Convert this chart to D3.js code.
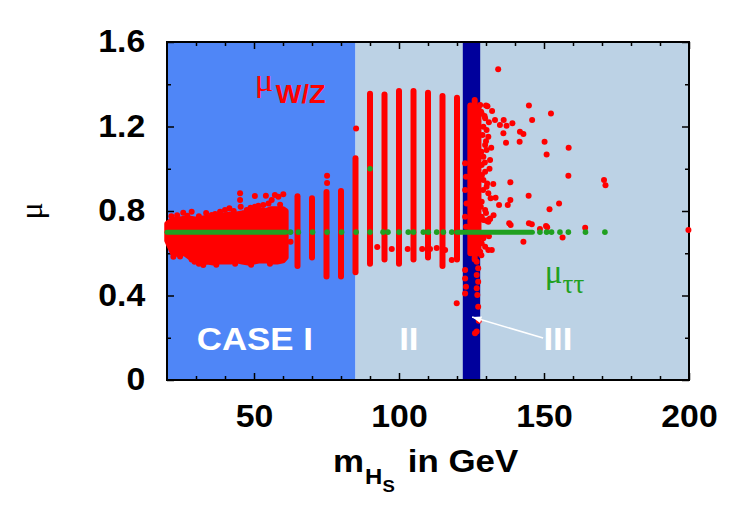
<!DOCTYPE html>
<html>
<head>
<meta charset="utf-8">
<script src="https://cdn.jsdelivr.net/npm/d3@7"></script>
<style>
  body { margin: 0; background: #fff; }
  svg { display: block; font-family: "Liberation Sans", Arial, sans-serif; }
  .axis path { display: none; }
  .axis line { stroke: #000; stroke-width: 1.5; }
  .axis text { font-size: 31px; font-weight: bold; fill: #000; }
</style>
</head>
<body>
<svg id="chart"></svg>
<script>
// Signal strengths vs singlet mass, three cases

// regions (GeV)
const caseEdges = [20, 85, 200];
const higgsBand = [122, 128];

// axes
const xTicks = [50, 100, 150, 200];
const xTickLabels = ["50", "100", "150", "200"];
const xMinor = [30, 40, 60, 70, 80, 90, 110, 120, 130, 140, 160, 170, 180, 190];
const yTicks = [0, 0.4, 0.8, 1.2, 1.6];
const yTickLabels = ["0", "0.4", "0.8", "1.2", "1.6"];
const yMinor = [0.2, 0.6, 1.0, 1.4];

// mu_W/Z dense region of case I (envelope of the scan points)
const blobMass = [20, 22, 24, 26, 28, 30, 32, 34, 36, 38, 40, 42, 44, 46, 48, 50, 52, 54, 56, 58, 60, 61];
const blobLo   = [0.66, 0.60, 0.595, 0.60, 0.58, 0.565, 0.555, 0.56, 0.555, 0.56, 0.56, 0.56, 0.565, 0.56, 0.555, 0.56, 0.565, 0.565, 0.56, 0.56, 0.565, 0.58];
const blobHi   = [0.74, 0.76, 0.76, 0.765, 0.765, 0.76, 0.765, 0.77, 0.775, 0.78, 0.78, 0.785, 0.785, 0.79, 0.79, 0.80, 0.805, 0.80, 0.81, 0.81, 0.81, 0.80];

// mu_W/Z scan columns (one per mass step)
const colMass = [65, 70, 75, 80, 85, 90, 95, 100, 105, 110, 115, 120];
const colLo   = [0.54, 0.58, 0.49, 0.49, 0.51, 0.55, 0.57, 0.55, 0.57, 0.58, 0.54, 0.57];
const colHi   = [0.87, 0.86, 0.89, 0.895, 1.05, 1.355, 1.352, 1.368, 1.368, 1.36, 1.344, 1.336];

// mu_W/Z cluster at the 125 GeV band
const peakMass = [124.6, 126.1, 127.4];
const peakLo   = [0.60, 0.57, 0.60];
const peakHi   = [1.30, 1.325, 1.29];

// mu_W/Z isolated points
const redMass = [25.6, 28.5, 35.4, 36.6, 38.3, 40, 41.5, 45.2, 45.2, 45.4, 47.5, 50.3, 50.3, 52, 53.2, 54.1, 55, 56.1, 57.2, 58.4, 60.1,
  21.5, 23.5, 27, 31, 33.5, 43, 48.8, 51.5, 59,
  22.2, 28.5, 29.5, 31, 32.5, 24.5, 37, 43.5, 49, 55.5, 62.6, 75.2, 75.2, 85.2,
  92.5, 97.5, 103, 108, 110.7, 113, 115.9, 118.2,
  128.0, 128.5, 129.7, 129.1, 130.2, 130.8, 129.7, 130.2, 129.1, 128.5, 129.7, 129.1, 130.2, 130.8, 128.5, 129.7, 128.5, 130.8,
  128.3, 129.5, 131, 128.8, 130, 131.8, 128.4, 129.6, 131.2, 128.6, 130.4, 129, 131.6, 128.2, 130, 132.6, 129.4, 131, 128.4,
  122.8, 123.1, 122.8, 123.3, 122.8, 123.1,
  128, 129.1, 130.8, 131.4, 128.5, 129.7, 130.8, 132, 128, 128, 129.1,
  126.8, 127.3, 126.8, 127.3, 126.8, 127.0, 127.3, 122.8, 122.8, 123.1, 122.8,
  119.9, 126.2, 126.8, 127.5,
  134.2, 144.8, 152.4, 145.9, 141.7, 142.9, 141.6, 150.2, 150.9, 158.5, 158.4, 170.7, 171.2,
  136.1, 139.1, 134.8, 137.1, 136, 136.9, 133.1, 132.1, 130, 130.5, 131.4, 132.5, 138.4, 133.3, 134.5, 137.5, 138.4, 144.7, 155.2, 151.9,
  138, 138.5, 144.8, 145.8, 150.7, 151.1, 148.6, 164.2, 131.4, 130.2, 142.9, 156.4, 199.8];
const redMu = [0.792, 0.797, 0.781, 0.786, 0.797, 0.805, 0.813, 0.884, 0.852, 0.82, 0.805, 0.871, 0.82, 0.80, 0.828, 0.872, 0.836, 0.852, 0.876, 0.868, 0.879,
  0.775, 0.78, 0.778, 0.775, 0.79, 0.80, 0.815, 0.825, 0.83,
  0.584, 0.57, 0.56, 0.55, 0.544, 0.585, 0.545, 0.55, 0.545, 0.55, 0.655, 0.967, 0.932, 1.19,
  0.63, 0.62, 0.62, 0.62, 0.62, 0.625, 0.615, 0.568,
  1.302, 1.262, 1.239, 1.199, 1.183, 1.152, 1.112, 1.089, 1.057, 1.018, 0.986, 0.947, 0.915, 0.884, 0.844, 0.805, 0.773, 0.749,
  1.27, 1.25, 1.22, 1.16, 1.13, 1.10, 1.08, 1.03, 1.0, 0.97, 0.93, 0.90, 0.86, 0.82, 0.79, 0.78, 0.69, 0.68, 0.59,
  1.026, 0.962, 0.899, 0.836, 0.773, 0.726,
  0.765, 0.757, 0.757, 0.765, 0.647, 0.631, 0.615, 0.615, 0.607, 0.678, 0.671,
  0.56, 0.529, 0.497, 0.465, 0.434, 0.402, 0.347, 0.521, 0.481, 0.442, 0.41,
  0.363, 0.221, 0.229, 0.28,
  1.471, 1.300, 1.262, 1.231, 1.175, 1.164, 1.128, 1.128, 1.068, 1.10, 0.967, 0.947, 0.922,
  1.231, 1.215, 1.207, 1.204, 1.168, 1.123, 1.231, 1.273, 1.30, 1.296, 1.041, 0.928, 0.936, 0.863, 0.828, 0.828, 0.852, 0.872, 0.836, 0.808,
  0.742, 0.734, 0.742, 0.737, 0.729, 0.723, 0.715, 0.721, 0.762, 0.754, 0.655, 0.674, 0.71];

// mu_tautau: dense runs and single points
const greenRunStart = [20, 120];
const greenRunEnd   = [61, 146];
const greenRunMu    = [0.70, 0.70];
const greenMass = [62.6, 65.3, 70.2, 75.2, 80.2, 85.2, 90, 90, 94.5, 96.2, 100, 103.2, 105, 108.4, 110.1, 113, 115.3, 118.2,
  148.6, 150.9, 152.6, 155.5, 158.4, 164.3, 171];
const greenMu = [0.70, 0.70, 0.70, 0.70, 0.70, 0.70, 0.70, 1.0, 0.70, 0.70, 0.70, 0.70, 0.70, 0.70, 0.70, 0.70, 0.70, 0.70,
  0.70, 0.70, 0.70, 0.70, 0.70, 0.70, 0.70];

// annotations (data units)
const caseLabels = ["CASE I", "II", "III"];
const caseLabelMass = [50.3, 103.4, 154.8];
const caseLabelMu = 0.142;
const arrowFrom = [149.7, 0.199];
const arrowTo = [125.2, 0.298];
const wzLabelPos = [50.3, 1.368];
const ttLabelPos = [150.3, 0.459];

(function () {
  const W = 750, H = 525;
  const M = { top: 42, right: 61, bottom: 145, left: 167 };
  const innerW = W - M.left - M.right;
  const innerH = H - M.top - M.bottom;
  const SX = 1.09; // the original lettering is slightly wide

  const CASE1 = "#4f86f7";
  const LIGHT = "#bcd2e5";
  const NAVY = "#00009c";
  const RED = "#ff0000";
  const GREEN = "#20a020";

  const svg = d3.select("#chart").attr("width", W).attr("height", H);
  const g = svg.append("g").attr("transform", `translate(${M.left},${M.top})`);

  const x = d3.scaleLinear().domain([20, 200]).range([0, innerW]);
  const y = d3.scaleLinear().domain([0, 1.6]).range([innerH, 0]);

  // background regions
  g.append("rect")
    .attr("x", x(caseEdges[0])).attr("y", 0)
    .attr("width", x(caseEdges[1]) - x(caseEdges[0])).attr("height", innerH)
    .attr("fill", CASE1);
  g.append("rect")
    .attr("x", x(caseEdges[1])).attr("y", 0)
    .attr("width", x(caseEdges[2]) - x(caseEdges[1])).attr("height", innerH)
    .attr("fill", LIGHT);
  g.append("rect")
    .attr("x", x(higgsBand[0])).attr("y", 0)
    .attr("width", x(higgsBand[1]) - x(higgsBand[0])).attr("height", innerH)
    .attr("fill", NAVY);

  // frame
  g.append("rect")
    .attr("width", innerW).attr("height", innerH)
    .attr("fill", "none").attr("stroke", "#000").attr("stroke-width", 2);

  // ticks, inward on all four sides
  g.append("g").attr("class", "axis")
    .attr("transform", `translate(0,${innerH})`)
    .call(d3.axisBottom(x).tickValues(xTicks).tickSize(-7).tickPadding(25)
      .tickFormat((d, i) => xTickLabels[i]))
    .selectAll("text").attr("font-size", 32).attr("transform", `scale(${SX},1)`);
  g.append("g").attr("class", "axis")
    .attr("transform", `translate(0,${innerH})`)
    .call(d3.axisBottom(x).tickValues(xMinor).tickSize(-4).tickFormat(""));
  g.append("g").attr("class", "axis")
    .call(d3.axisTop(x).tickValues(xTicks).tickSize(-7).tickFormat(""));
  g.append("g").attr("class", "axis")
    .call(d3.axisTop(x).tickValues(xMinor).tickSize(-4).tickFormat(""));
  g.append("g").attr("class", "axis")
    .call(d3.axisLeft(y).tickValues(yTicks).tickSize(-7).tickPadding(20)
      .tickFormat((d, i) => yTickLabels[i]))
    .selectAll("text").attr("transform", `scale(${SX},1)`);
  g.append("g").attr("class", "axis")
    .call(d3.axisLeft(y).tickValues(yMinor).tickSize(-4).tickFormat(""));
  g.append("g").attr("class", "axis")
    .attr("transform", `translate(${innerW},0)`)
    .call(d3.axisRight(y).tickValues(yTicks).tickSize(-7).tickFormat(""));
  g.append("g").attr("class", "axis")
    .attr("transform", `translate(${innerW},0)`)
    .call(d3.axisRight(y).tickValues(yMinor).tickSize(-4).tickFormat(""));

  // mu_W/Z : dense envelope
  const blob = blobMass.map((m, i) => ({ m, lo: blobLo[i], hi: blobHi[i] }));
  g.append("path")
    .datum(blob)
    .attr("fill", RED).attr("stroke", RED)
    .attr("stroke-width", 5.5).attr("stroke-linejoin", "round")
    .attr("d", d3.area().x(d => x(d.m)).y0(d => y(d.lo)).y1(d => y(d.hi)));

  // mu_W/Z : columns
  const cols = colMass.map((m, i) => ({ m, lo: colLo[i], hi: colHi[i] }))
    .concat(peakMass.map((m, i) => ({ m, lo: peakLo[i], hi: peakHi[i] })));
  g.append("g").selectAll("line")
    .data(cols).join("line")
    .attr("x1", d => x(d.m)).attr("x2", d => x(d.m))
    .attr("y1", d => y(d.lo)).attr("y2", d => y(d.hi))
    .attr("stroke", RED).attr("stroke-width", 6).attr("stroke-linecap", "round");

  // mu_W/Z : isolated points
  g.append("g").selectAll("circle")
    .data(redMass.map((m, i) => ({ m, mu: redMu[i] }))).join("circle")
    .attr("cx", d => x(d.m)).attr("cy", d => y(d.mu))
    .attr("r", 3).attr("fill", RED);

  // mu_tautau
  g.append("g").selectAll("line")
    .data(greenRunStart.map((s, i) => ({ s, e: greenRunEnd[i], mu: greenRunMu[i] }))).join("line")
    .attr("x1", d => x(d.s)).attr("x2", d => x(d.e))
    .attr("y1", d => y(d.mu)).attr("y2", d => y(d.mu))
    .attr("stroke", GREEN).attr("stroke-width", 5).attr("stroke-linecap", "round");
  g.append("g").selectAll("circle")
    .data(greenMass.map((m, i) => ({ m, mu: greenMu[i] }))).join("circle")
    .attr("cx", d => x(d.m)).attr("cy", d => y(d.mu))
    .attr("r", 2.8).attr("fill", GREEN);

  // case labels
  g.append("g").selectAll("text")
    .data(caseLabels).join("text")
    .attr("transform", (d, i) => `translate(${x(caseLabelMass[i])},${y(caseLabelMu)}) scale(${SX},1)`)
    .attr("text-anchor", "middle")
    .attr("fill", "#fff").attr("font-size", 32).attr("font-weight", "bold")
    .text(d => d);

  // arrow III -> band
  const ax1 = x(arrowFrom[0]), ay1 = y(arrowFrom[1]);
  const ax2 = x(arrowTo[0]), ay2 = y(arrowTo[1]);
  const ang = Math.atan2(ay2 - ay1, ax2 - ax1);
  g.append("line")
    .attr("x1", ax1).attr("y1", ay1).attr("x2", ax2).attr("y2", ay2)
    .attr("stroke", "#fff").attr("stroke-width", 1.5);
  const hl = 10, hw = 0.35;
  g.append("path")
    .attr("d", `M${ax2},${ay2}` +
      `L${ax2 - hl * Math.cos(ang - hw)},${ay2 - hl * Math.sin(ang - hw)}` +
      `L${ax2 - hl * Math.cos(ang + hw)},${ay2 - hl * Math.sin(ang + hw)}Z`)
    .attr("fill", "#fff");

  // series labels
  const wz = g.append("text")
    .attr("transform", `translate(${x(wzLabelPos[0])},${y(wzLabelPos[1])}) scale(${SX},1)`)
    .attr("fill", RED);
  wz.append("tspan").attr("font-family", "'Liberation Serif', serif")
    .attr("font-size", 32).text("μ");
  wz.append("tspan").attr("font-size", 25).attr("font-weight", "bold")
    .attr("dx", 2).attr("dy", 12).text("W/Z");

  const tt = g.append("text")
    .attr("x", x(ttLabelPos[0])).attr("y", y(ttLabelPos[1]))
    .attr("fill", GREEN).attr("font-family", "'Liberation Serif', serif");
  tt.append("tspan").attr("font-size", 33).text("μ");
  tt.append("tspan").attr("font-size", 27).attr("dy", 10).text("ττ");

  // axis titles
  const xt = svg.append("text")
    .attr("transform", `translate(333,472) scale(${SX},1)`)
    .attr("font-weight", "bold").attr("fill", "#000");
  xt.append("tspan").attr("font-size", 32).text("m");
  xt.append("tspan").attr("font-size", 22).attr("dx", 1).attr("dy", 12).text("H");
  xt.append("tspan").attr("font-size", 17).attr("dy", 8).text("S");
  xt.append("tspan").attr("font-size", 32).attr("dx", 3).attr("dy", -20).text(" in GeV");

  svg.append("text")
    .attr("transform", "translate(42,211) rotate(-90)")
    .attr("text-anchor", "middle")
    .attr("font-family", "'Liberation Serif', serif")
    .attr("font-size", 32).attr("fill", "#000")
    .text("μ");
})();
</script>
</body>
</html>
